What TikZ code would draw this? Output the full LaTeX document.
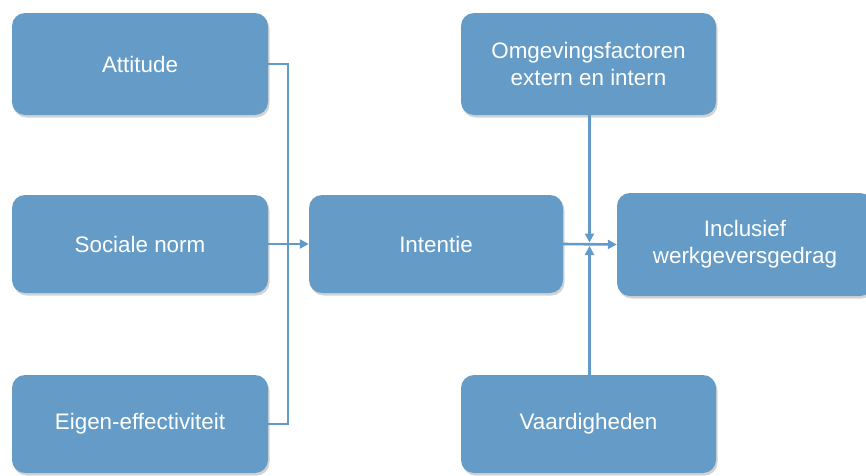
\documentclass[tikz,border=0pt]{standalone}
\usepackage{fontspec}
\setmainfont{Liberation Sans}
\usetikzlibrary{shadows,arrows.meta}
\definecolor{boxblue}{RGB}{101,156,199}
\definecolor{lineblue}{RGB}{98,155,202}
\tikzset{
  box/.style={draw=none, fill=boxblue, rounded corners=13pt, text=white,
    align=center, inner sep=0pt,
    font=\fontsize{22.4}{27}\selectfont,
    drop shadow={opacity=0.35, shadow xshift=1.5pt, shadow yshift=-2.5pt}},
  conn/.style={draw=lineblue, line width=2.6pt},
  arr/.style={conn, -{Triangle[length=9pt,width=9pt]}}
}
\begin{document}
\begin{tikzpicture}[x=1pt,y=-1pt]
\useasboundingbox (0,0) rectangle (866,475);
\node[box, minimum width=256pt, minimum height=102pt] (att) at (140,64) {Attitude};
\node[box, minimum width=256pt, minimum height=98pt] (soc) at (140,244) {Sociale norm};
\node[box, minimum width=256pt, minimum height=98pt] (eig) at (140,424) {Eigen-effectiviteit};
\node[box, minimum width=254pt, minimum height=98pt] (int) at (436,244) {Intentie};
\node[box, minimum width=255pt, minimum height=102pt] (omg) at (588.5,64) {Omgevingsfactoren\\extern en intern};
\node[box, minimum width=256pt, minimum height=103pt] (inc) at (745,244.5) {Inclusief\\werkgeversgedrag};
\node[box, minimum width=255pt, minimum height=98pt] (vaa) at (588.5,424) {Vaardigheden};
\coordinate (jl) at (288,244);
\coordinate (jrt) at (589.5,242.5);
\coordinate (jrb) at (589.5,246);
\draw[conn] (att.east) -| (jl) |- (eig.east);
\draw[arr] (soc.east) -- (int.west);
\draw[arr] (int.east) -- (inc.west);
\draw[arr] (omg.south -| jrt) -- (jrt);
\draw[arr] (vaa.north -| jrb) -- (jrb);
\end{tikzpicture}
\end{document}
